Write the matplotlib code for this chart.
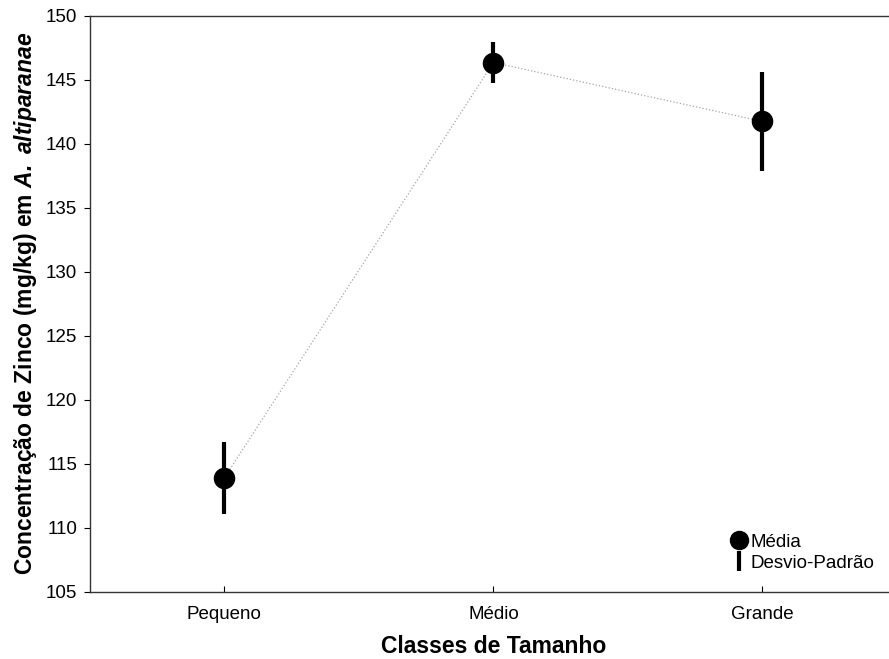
import matplotlib
matplotlib.use('Agg')
import matplotlib.pyplot as plt
from matplotlib.lines import Line2D

plt.rcParams['font.family'] = ['Liberation Sans', 'DejaVu Sans']
plt.rcParams['mathtext.fontset'] = 'custom'
plt.rcParams['mathtext.bfit'] = 'Liberation Sans:italic:bold'
plt.rcParams['mathtext.rm'] = 'Liberation Sans'

classes = ['Pequeno', 'Médio', 'Grande']
medias = [113.9, 146.35, 141.75]
desvios = [2.8, 1.6, 3.85]

fig = plt.figure(figsize=(8.89, 6.59), dpi=100)
ax = fig.add_axes([0.101, 0.102, 0.908, 0.874])

x = range(len(classes))
ax.plot(x, medias, linestyle=':', color='0.65', linewidth=0.9, zorder=1)
ax.errorbar(x, medias, yerr=desvios, fmt='none', ecolor='black',
            elinewidth=3, capsize=0, zorder=2)
ax.plot(x, medias, 'o', color='black', markersize=14.5, zorder=3)

ax.set_xlim(-0.5, 2.5)
ax.set_ylim(105, 150)
ax.set_xticks(list(x))
ax.set_xticklabels(classes)
ax.set_yticks(range(105, 151, 5))

ax.tick_params(axis='x', direction='in', length=4, labelsize=13.5, pad=10)
ax.tick_params(axis='y', direction='out', length=4, labelsize=13.5, pad=5)
for s in ax.spines.values():
    s.set_linewidth(1.0)
    s.set_color('0.2')

ax.set_xlabel('Classes de Tamanho', fontsize=16.5, fontweight='bold', labelpad=9)
ax.set_ylabel(r'Concentração de Zinco (mg/kg) em $\mathbfit{A.\;altiparanae}$',
              fontsize=16.5, fontweight='bold', labelpad=5)

handles = [Line2D([], [], marker='o', color='black', linestyle='none', markersize=13),
           Line2D([], [], marker='|', color='black', linestyle='none', markersize=14,
                  markeredgewidth=3)]
ax.legend(handles, ['Média', 'Desvio-Padrão'], loc='lower right', frameon=False,
          fontsize=13.5, handlelength=0.7, handletextpad=0.3, labelspacing=0.2,
          borderpad=0, bbox_to_anchor=(884 / 889, 1 - 581 / 659),
          bbox_transform=fig.transFigure)

fig.savefig('out.png', dpi=100)
